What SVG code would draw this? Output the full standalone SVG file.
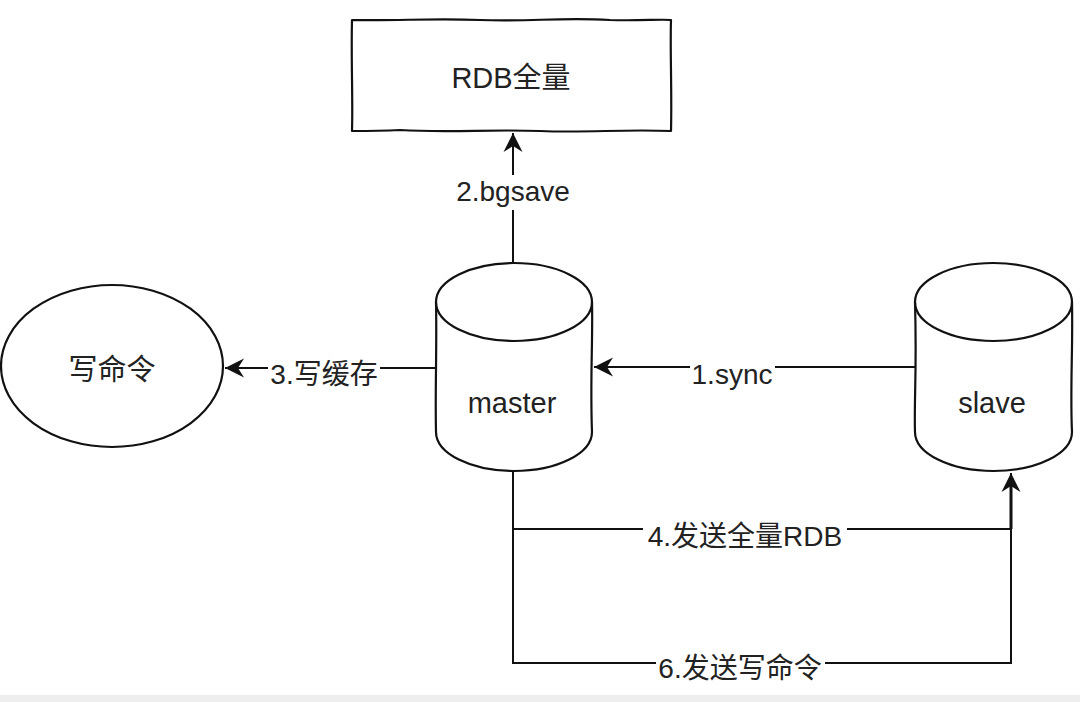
<svg xmlns="http://www.w3.org/2000/svg" width="1080" height="702" viewBox="0 0 1080 702">
  <defs>
    <style>
      .shape { fill: #ffffff; stroke: #111111; stroke-width: 2.2; stroke-linejoin: round; }
      .line { fill: none; stroke: #111111; stroke-width: 2; }
      .node-text { font-family: "Liberation Sans", "Noto Sans CJK SC", sans-serif; font-size: 29px; fill: #222222; text-anchor: middle; }
      .edge-text { font-family: "Liberation Sans", "Noto Sans CJK SC", sans-serif; font-size: 28px; fill: #222222; text-anchor: middle; }
      .label-bg { fill: #ffffff; }
    </style>
    <marker id="arrow" viewBox="-20 -11 22 22" markerWidth="22" markerHeight="22" refX="0" refY="0" orient="auto" markerUnits="userSpaceOnUse">
      <path d="M0,0 L-19,-9.5 L-13,0 L-19,9.5 Z" fill="#111111"/>
    </marker>
  </defs>
  <rect x="0" y="0" width="1080" height="702" fill="#ffffff"/>
  <rect x="0" y="695" width="1080" height="7" fill="#eeeeee"/>

  <g id="connectors">
    <!-- 2.bgsave: master -> RDB -->
    <path class="line" d="M513,263 V133" marker-end="url(#arrow)"/>
    <!-- 1.sync: slave -> master -->
    <path class="line" d="M915,367 H594" marker-end="url(#arrow)"/>
    <!-- 3.写缓存: master -> 写命令 -->
    <path class="line" d="M436,368 H225" marker-end="url(#arrow)"/>
    <!-- 4.发送全量RDB: master -> slave -->
    <path class="line" d="M513,471 V529 H1011 V473" marker-end="url(#arrow)"/>
    <!-- 6.发送写命令: master -> slave -->
    <path class="line" d="M513,529 V663 H1011 V529"/>
    <path class="line" style="stroke-width:3" d="M1011,529 V485"/>

    <rect class="label-bg" x="454" y="175" width="118" height="35"/>
    <text class="edge-text" x="513" y="201">2.bgsave</text>

    <rect class="label-bg" x="690" y="355" width="85" height="28"/>
    <text class="edge-text" x="732" y="384">1.sync</text>

    <rect class="label-bg" x="268" y="355" width="112" height="30"/>
    <text class="edge-text" x="324" y="384">3.写缓存</text>

    <rect class="label-bg" x="643" y="517" width="204" height="30"/>
    <text class="edge-text" x="745" y="546">4.发送全量RDB</text>

    <rect class="label-bg" x="656" y="651" width="169" height="30"/>
    <text class="edge-text" x="740" y="678">6.发送写命令</text>
  </g>

  <g id="node-rdb">
    <path class="shape" d="M352,20 C400,21 430,18 480,20 C530,22 560,17 610,20 C640,21 660,19 671,20 C670,50 672,90 671,131 C620,129 590,133 540,131 C490,129 450,133 400,130 C380,131 365,131 352,131 C353,100 351,60 352,20 Z"/>
    <text class="node-text" x="511" y="88">RDB全量</text>
  </g>

  <g id="node-write-cmd">
    <ellipse class="shape" cx="112" cy="366" rx="111" ry="81"/>
    <text class="node-text" x="112" y="380">写命令</text>
  </g>

  <g id="node-master">
    <path class="shape" d="M436,302 A78,39 0 0 1 592,302 C593,340 590,380 592,432 A78,39 0 0 1 436,432 C435,390 437,350 436,302 Z"/>
    <path class="line" style="stroke-width:2.2" d="M436,302 A78,39 0 0 0 592,302"/>
    <text class="node-text" x="512" y="413">master</text>
  </g>

  <g id="node-slave">
    <path class="shape" d="M915,302 A78.5,39 0 0 1 1072,302 C1073,350 1070,390 1072,432 A78.5,39 0 0 1 915,432 C914,400 917,370 915,302 Z"/>
    <path class="line" style="stroke-width:2.2" d="M915,302 A78.5,39 0 0 0 1072,302"/>
    <text class="node-text" x="992" y="413">slave</text>
  </g>
</svg>
